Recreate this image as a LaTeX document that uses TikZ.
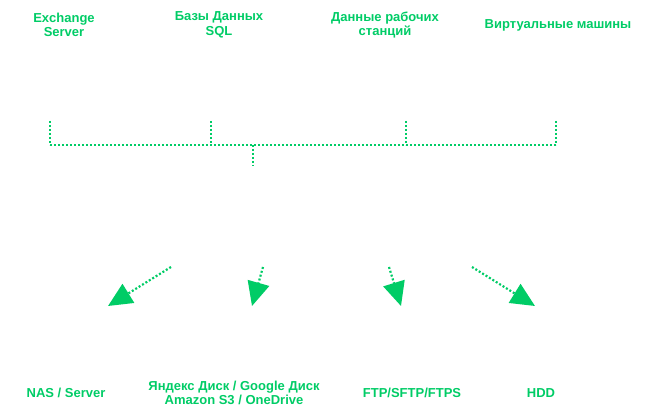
\documentclass[tikz,border=0pt]{standalone}
\usepackage{fontspec}
\setmainfont{Liberation Sans}
\usetikzlibrary{arrows.meta}
\definecolor{backupgreen}{RGB}{0,204,102}
\tikzstyle{every node} = [font=\fontsize{13}{14.5}\selectfont\bfseries, text=backupgreen, align=center, inner sep=0pt]
\tikzstyle{link} = [backupgreen, line width=2.2pt, dash pattern=on 2pt off 2pt]
\tikzstyle{flow} = [link, -{Triangle[length=24pt, width=22pt]}]

\begin{document}
\begin{tikzpicture}[x=1pt, y=-1pt]
    \useasboundingbox (0,0) rectangle (649,414);
    % sources
    \node (exchange) at (64,25) {Exchange\\Server};
    \node (sql) at (219,25) {Базы Данных\\SQL};
    \node (workst) at (385,25) {Данные рабочих\\станций};
    \node (vms) at (558,25) {Виртуальные машины};
    % bus
    \coordinate (exchange-b) at (50,121);
    \coordinate (sql-b) at (211,121);
    \coordinate (workst-b) at (406,121);
    \coordinate (vms-b) at (556,121);
    \coordinate (hub) at (253,145);
    \coordinate (hub-b) at (253,166);
    \foreach \c in {exchange-b, sql-b, workst-b, vms-b}
        \draw[link] (\c) -- (\c |- hub);
    \draw[link] (exchange-b |- hub) -- (vms-b |- hub);
    \draw[link] (hub) -- (hub-b);
    % targets
    \node (nas) at (66,393) {NAS / Server};
    \node (cloud) at (234,393) {Яндекс Диск / Google Диск\\Amazon S3 / OneDrive};
    \node (ftp) at (412,393) {FTP/SFTP/FTPS};
    \node (hdd) at (541,393) {HDD};
    \coordinate (nas-from) at (171,267);
    \coordinate (nas-to) at (108,306);
    \coordinate (cloud-from) at (263,267);
    \coordinate (cloud-to) at (252,306);
    \coordinate (ftp-from) at (389,267);
    \coordinate (ftp-to) at (401,306);
    \coordinate (hdd-from) at (472,267);
    \coordinate (hdd-to) at (535,306);
    \foreach \t in {nas, cloud, ftp, hdd}
        \draw[flow] (\t-from) -- (\t-to);
\end{tikzpicture}
\end{document}
